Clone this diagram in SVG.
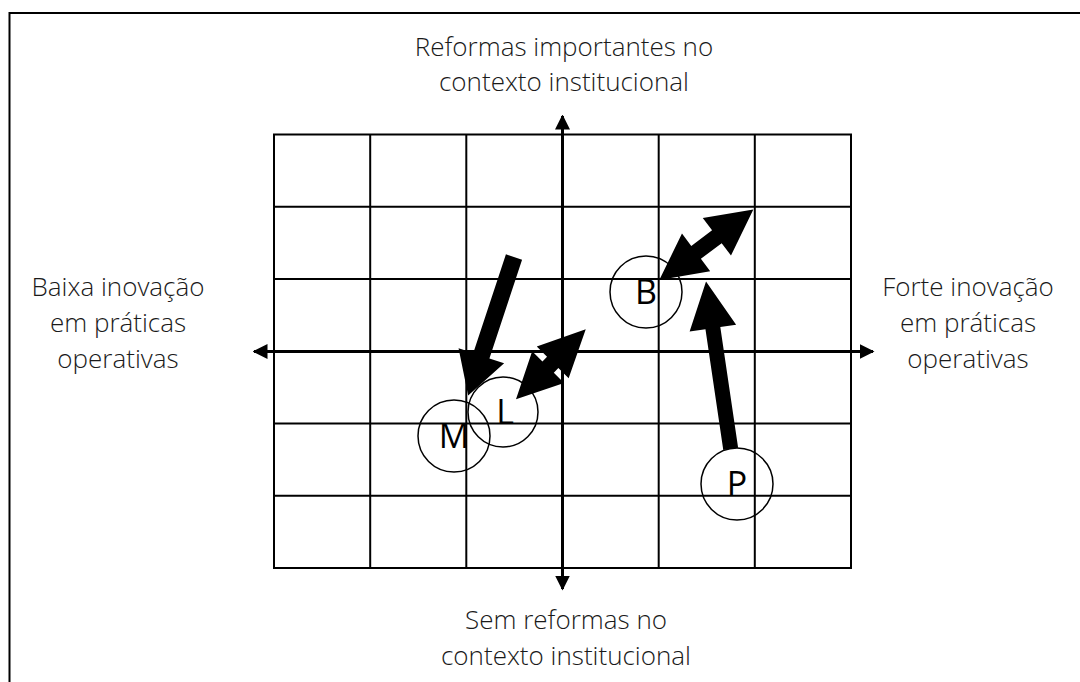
<svg xmlns="http://www.w3.org/2000/svg" width="1080" height="682" viewBox="0 0 1080 682">
<style>
.grid{stroke:#000;stroke-width:2;fill:none}
.axis{stroke:#000;stroke-width:3;fill:none}
.lbl{font-family:"Open Sans","Noto Sans","Liberation Sans",sans-serif;font-weight:300;font-size:26px;fill:#1a1a1a;text-anchor:middle}
.node circle{fill:none;stroke:#000;stroke-width:1.5}
.node text{font-family:"Open Sans","Noto Sans","Liberation Sans",sans-serif;font-size:34px;fill:#000;text-anchor:middle}
.arr{fill:#000;stroke:none}
</style>
<defs>
<marker id="ah" viewBox="0 0 10 10" refX="9" refY="5" markerWidth="5" markerHeight="5" orient="auto" markerUnits="strokeWidth">
<path d="M0,0 L10,5 L0,10 z" fill="#000"/>
</marker>
</defs>
<path d="M9.5,682 V13 H1080" stroke="#000" stroke-width="2" fill="none"/>
<g id="grid" class="grid">
<rect x="274" y="134.5" width="577" height="433.5"/>
<line x1="370.2" y1="134.5" x2="370.2" y2="568"/>
<line x1="466.3" y1="134.5" x2="466.3" y2="568"/>
<line x1="658.7" y1="134.5" x2="658.7" y2="568"/>
<line x1="754.8" y1="134.5" x2="754.8" y2="568"/>
<line x1="274" y1="206.75" x2="851" y2="206.75"/>
<line x1="274" y1="279" x2="851" y2="279"/>
<line x1="274" y1="423.5" x2="851" y2="423.5"/>
<line x1="274" y1="495.75" x2="851" y2="495.75"/>
</g>
<g id="axes" class="axis">
<line x1="562.5" y1="351.25" x2="562.5" y2="116" marker-end="url(#ah)"/>
<line x1="562.5" y1="351.25" x2="562.5" y2="589" marker-end="url(#ah)"/>
<line x1="562.5" y1="351.5" x2="254" y2="351.5" marker-end="url(#ah)"/>
<line x1="562.5" y1="351.5" x2="873" y2="351.5" marker-end="url(#ah)"/>
</g>
<g id="label-top"><text class="lbl" x="564" y="56">Reformas importantes no</text><text class="lbl" x="564" y="91">contexto institucional</text></g>
<g id="label-left"><text class="lbl" x="118" y="296">Baixa inovação</text><text class="lbl" x="118" y="332">em práticas</text><text class="lbl" x="118" y="368">operativas</text></g>
<g id="label-right"><text class="lbl" x="968" y="296">Forte inovação</text><text class="lbl" x="968" y="332">em práticas</text><text class="lbl" x="968" y="368">operativas</text></g>
<g id="label-bottom"><text class="lbl" x="566" y="629">Sem reformas no</text><text class="lbl" x="566" y="665">contexto institucional</text></g>
<g id="node-B" class="node"><circle cx="646" cy="292" r="36"/><text x="646" y="304">B</text></g>
<g id="node-M" class="node"><circle cx="454" cy="436" r="36"/><text x="454" y="448">M</text></g>
<g id="node-L" class="node"><circle cx="503" cy="412" r="35"/><text x="505" y="424">L</text></g>
<g id="node-P" class="node"><circle cx="737" cy="484" r="36"/><text x="737" y="496">P</text></g>
<g id="connectors" class="arr">
<polygon transform="translate(514,257) rotate(108.3)" points="0,-8.5 104,-8.5 104,-24 146,0 104,24 104,8.5 0,8.5"/>
<polygon transform="translate(730.7,448.8) rotate(-98.4)" points="0,-7.5 122,-7.5 122,-23.5 169,0 122,23.5 122,7.5 0,7.5"/>
<polygon transform="translate(659.3,280) rotate(-36.9)" points="0,0 46,-23.5 46,-8 72,-8 72,-23.5 117.6,0 72,23.5 72,8 46,8 46,23.5"/>
<polygon transform="translate(516,399.3) rotate(-45.1)" points="0,0 45.5,-22.5 45.5,-8 52,-8 52,-22.5 98.8,0 52,22.5 52,8 45.5,8 45.5,22.5"/>
</g>
</svg>
